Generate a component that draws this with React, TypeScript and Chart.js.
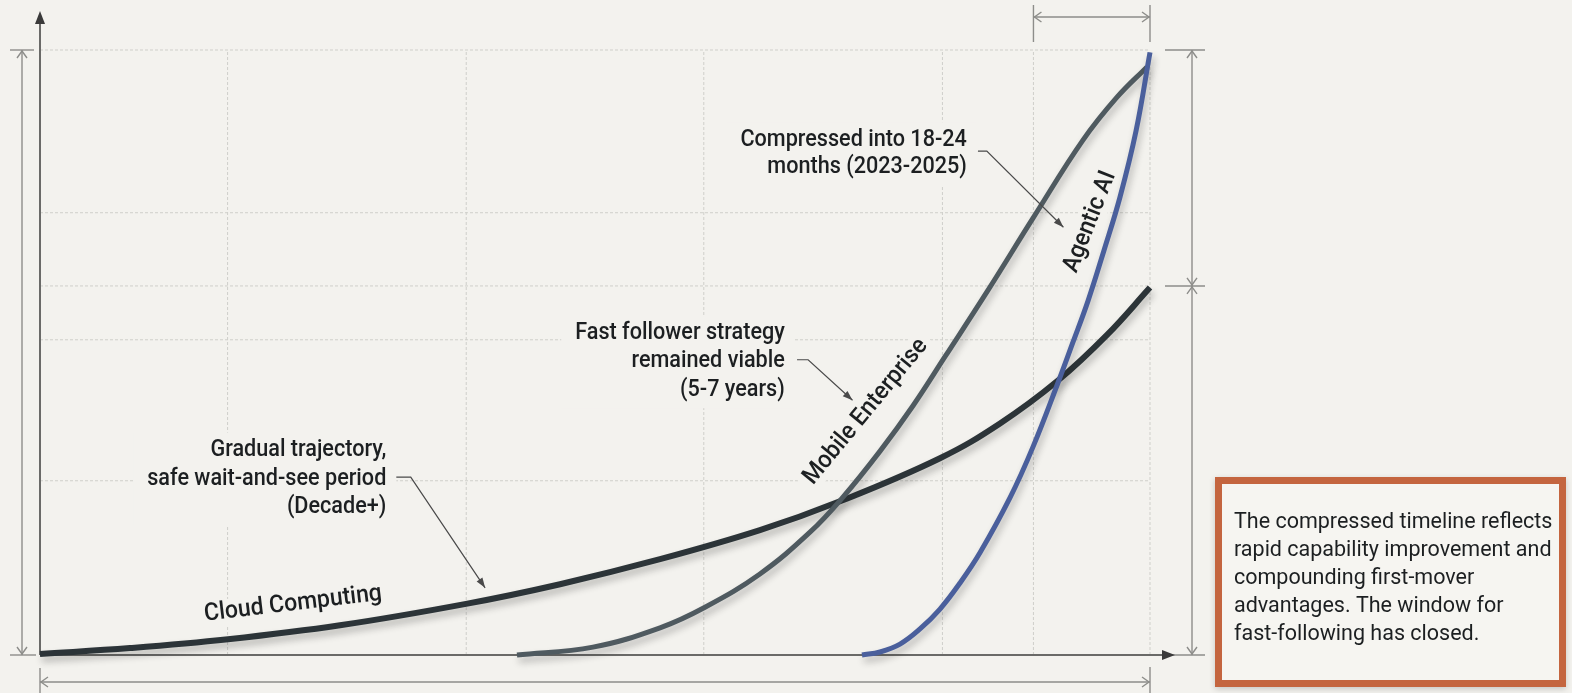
import React, { useEffect, useRef } from "react";
import { Chart, registerables } from "chart.js";
Chart.register(...registerables);

// ---- data (x: relative time index 0-100, y: relative adoption 0-100) ----
const seriesNames = ["Cloud Computing", "Mobile Enterprise", "Agentic AI"];
const cloudX = [0, 8.11, 16.94, 27.03, 38.38, 46.85, 55.86, 64.86, 72.07, 81.08, 86.49, 91.71, 96.13, 100];
const cloudY = [0.17, 1.14, 2.6, 4.91, 8.45, 11.7, 15.83, 20.63, 25.4, 32.53, 38.28, 45.37, 52.91, 60.73];
const mobileX = [42.97, 49.82, 55.86, 59.91, 64.86, 69.37, 72.34, 75.68, 78.65, 81.53, 85.41, 89.46, 93.96, 97.03, 99.73];
const mobileY = [0, 1.3, 4.5, 7.9, 13.4, 20.3, 26.1, 33.7, 41.2, 49.3, 60.3, 72.2, 85.1, 92.2, 97.2];
const agenticX = [74.05, 75.68, 77.48, 79.28, 81.08, 82.88, 84.68, 87.39, 89.46, 91.71, 93.06, 94.41, 95.86, 97.3, 98.74, 100];
const agenticY = [0, 0.5, 1.8, 4.3, 7.6, 11.9, 16.9, 26.0, 34.4, 45.0, 51.7, 58.5, 66.9, 75.7, 86.6, 99.6];
const gridX = [16.9, 38.4, 59.8, 81.3, 89.5, 100];
const gridY = [28.8, 52.1, 61.0, 73.1, 100];
const windowStart = 89.5;
const cloudEnd = 61.0;

const cloudNote = ["Gradual trajectory,", "safe wait-and-see period", "(Decade+)"];
const mobileNote = ["Fast follower strategy", "remained viable", "(5-7 years)"];
const agenticNote = ["Compressed into 18-24", "months (2023-2025)"];
const boxText = [
  "The compressed timeline reflects",
  "rapid capability improvement and",
  "compounding first-mover",
  "advantages. The window for",
  "fast-following has closed.",
];

const BG = "#f3f2ee";
const TEXT = "#1c1f21";
const FONT = "Roboto";
const CONDENSE = 0.94;

function chevron(ctx: CanvasRenderingContext2D, x: number, y: number, dir: string, s = 7, w = 5) {
  ctx.beginPath();
  if (dir === "up") { ctx.moveTo(x - w, y + s); ctx.lineTo(x, y); ctx.lineTo(x + w, y + s); }
  if (dir === "down") { ctx.moveTo(x - w, y - s); ctx.lineTo(x, y); ctx.lineTo(x + w, y - s); }
  if (dir === "left") { ctx.moveTo(x + s, y - w); ctx.lineTo(x, y); ctx.lineTo(x + s, y + w); }
  if (dir === "right") { ctx.moveTo(x - s, y - w); ctx.lineTo(x, y); ctx.lineTo(x - s, y + w); }
  ctx.stroke();
}

function line(ctx: CanvasRenderingContext2D, x1: number, y1: number, x2: number, y2: number) {
  ctx.beginPath(); ctx.moveTo(x1, y1); ctx.lineTo(x2, y2); ctx.stroke();
}

const shadowPlugin = {
  id: "shadow",
  beforeDatasetDraw(chart: any) {
    const ctx = chart.ctx;
    ctx.save();
    ctx.shadowColor = "rgba(30,30,30,0.28)";
    ctx.shadowBlur = 7;
    ctx.shadowOffsetX = 2;
    ctx.shadowOffsetY = 5;
  },
  afterDatasetDraw(chart: any) {
    chart.ctx.restore();
  },
};

const NOTE_FONT = `500 23px ${FONT}`;

function noteBlock(ctx: CanvasRenderingContext2D, lines: string[], right: number, top: number, lh: number, bgOnly: boolean) {
  ctx.font = NOTE_FONT;
  if (bgOnly) {
    const w = Math.max(...lines.map((l) => ctx.measureText(l).width)) * CONDENSE;
    ctx.fillStyle = BG;
    ctx.fillRect(right - w - 14, top - 18, w + 24, lh * (lines.length - 1) + 36);
    return;
  }
  ctx.fillStyle = TEXT;
  ctx.textAlign = "right";
  ctx.textBaseline = "middle";
  lines.forEach((l, i) => {
    ctx.save();
    ctx.translate(right, top + i * lh);
    ctx.scale(CONDENSE, 1);
    ctx.fillText(l, 0, 0);
    ctx.restore();
  });
}

function arrowPath(ctx: CanvasRenderingContext2D, pts: number[][]) {
  ctx.strokeStyle = "#4a4a4a";
  ctx.fillStyle = "#4a4a4a";
  ctx.lineWidth = 1.2;
  ctx.beginPath();
  ctx.moveTo(pts[0][0], pts[0][1]);
  for (let i = 1; i < pts.length; i++) ctx.lineTo(pts[i][0], pts[i][1]);
  ctx.stroke();
  const [ax, ay] = pts[pts.length - 2];
  const [bx, by] = pts[pts.length - 1];
  const a = Math.atan2(by - ay, bx - ax);
  const L = 10, W = 3.5;
  ctx.beginPath();
  ctx.moveTo(bx, by);
  ctx.lineTo(bx - L * Math.cos(a) + W * Math.sin(a), by - L * Math.sin(a) - W * Math.cos(a));
  ctx.lineTo(bx - L * Math.cos(a) - W * Math.sin(a), by - L * Math.sin(a) + W * Math.cos(a));
  ctx.closePath();
  ctx.fill();
}

function seriesLabel(ctx: CanvasRenderingContext2D, text: string, x: number, y: number, angDeg: number, bgOnly: boolean) {
  ctx.save();
  ctx.translate(x, y);
  ctx.rotate((angDeg * Math.PI) / 180);
  ctx.scale(CONDENSE, 1);
  ctx.font = `500 24.5px ${FONT}`;
  ctx.textAlign = "center";
  ctx.textBaseline = "middle";
  if (bgOnly) {
    const w = ctx.measureText(text).width;
    ctx.fillStyle = BG;
    ctx.fillRect(-w / 2 - 6, -13, w + 12, 26);
  } else {
    ctx.fillStyle = TEXT;
    ctx.fillText(text, 0, 0);
  }
  ctx.restore();
}

const decorPlugin = {
  id: "decor",
  beforeDraw(chart: any) {
    const ctx = chart.ctx;
    ctx.save();
    ctx.fillStyle = BG;
    ctx.fillRect(0, 0, chart.width, chart.height);
    ctx.restore();
  },
  beforeDatasetsDraw(chart: any) {
    const ctx: CanvasRenderingContext2D = chart.ctx;
    const xs = chart.scales.x, ys = chart.scales.y;
    const X = (v: number) => xs.getPixelForValue(v);
    const Y = (v: number) => ys.getPixelForValue(v);
    ctx.save();
    // grid
    ctx.strokeStyle = "#cfcfca";
    ctx.lineWidth = 1;
    ctx.setLineDash([3, 2]);
    gridY.forEach((g) => line(ctx, X(0), Y(g), X(100), Y(g)));
    gridX.forEach((g) => line(ctx, X(g), Y(0), X(g), Y(100)));
    ctx.setLineDash([]);
    // text backgrounds
    noteBlock(ctx, cloudNote, X(31.2), Y(33.8), 28.5, true);
    noteBlock(ctx, mobileNote, X(67.1), Y(53.2), 28.5, true);
    noteBlock(ctx, agenticNote, X(83.5), Y(85.1), 27.5, true);
    seriesLabel(ctx, seriesNames[0], X(22.8), Y(8.4), -6.8, true);
    seriesLabel(ctx, seriesNames[1], X(74.4), Y(40.2), -50.5, true);
    seriesLabel(ctx, seriesNames[2], X(94.6), Y(71.6), -68.5, true);
    // notes text
    noteBlock(ctx, cloudNote, X(31.2), Y(33.8), 28.5, false);
    noteBlock(ctx, mobileNote, X(67.1), Y(53.2), 28.5, false);
    noteBlock(ctx, agenticNote, X(83.5), Y(85.1), 27.5, false);

    // dimension lines
    ctx.strokeStyle = "#8d8d8a";
    ctx.lineWidth = 1.4;
    const L = X(0) - 18;
    line(ctx, L, Y(100), L, Y(0));
    line(ctx, L - 12, Y(100), L + 12, Y(100));
    line(ctx, L - 12, Y(0), L + 14, Y(0));
    chevron(ctx, L, Y(100) + 1, "up");
    chevron(ctx, L, Y(0) - 1, "down");
    const B = Y(0) + 27;
    line(ctx, X(0), B, X(100), B);
    line(ctx, X(0), B - 14, X(0), B + 12);
    line(ctx, X(100), B - 15, X(100), B + 12);
    chevron(ctx, X(0) + 1, B, "left");
    chevron(ctx, X(100) - 1, B, "right");
    const T = Y(100) - 33;
    line(ctx, X(windowStart), T, X(100), T);
    line(ctx, X(windowStart), T - 12, X(windowStart), T + 25);
    line(ctx, X(100), T - 12, X(100), T + 25);
    chevron(ctx, X(windowStart) + 1, T, "left");
    chevron(ctx, X(100) - 1, T, "right");
    const R = X(100) + 42;
    line(ctx, R, Y(100), R, Y(0));
    [100, cloudEnd, 0].forEach((v) => line(ctx, R - 27, Y(v), R + 13, Y(v)));
    chevron(ctx, R, Y(100) + 1, "up");
    chevron(ctx, R, Y(cloudEnd) - 1, "down");
    chevron(ctx, R, Y(cloudEnd) + 1, "up");
    chevron(ctx, R, Y(0) - 1, "down");

    // axes
    ctx.strokeStyle = "#6a6a68";
    ctx.fillStyle = "#3a3a3a";
    ctx.lineWidth = 2;
    line(ctx, X(0), Y(0), X(0), 22);
    line(ctx, X(0), Y(0), chart.chartArea.right + 17, Y(0));
    ctx.beginPath();
    ctx.moveTo(X(0), 11); ctx.lineTo(X(0) - 5, 24); ctx.lineTo(X(0) + 5, 24); ctx.closePath(); ctx.fill();
    const ax = chart.chartArea.right + 25;
    ctx.beginPath();
    ctx.moveTo(ax, Y(0)); ctx.lineTo(ax - 13, Y(0) - 5); ctx.lineTo(ax - 13, Y(0) + 5); ctx.closePath(); ctx.fill();
    ctx.restore();
  },
  afterDatasetsDraw(chart: any) {
    const ctx: CanvasRenderingContext2D = chart.ctx;
    const xs = chart.scales.x, ys = chart.scales.y;
    const X = (v: number) => xs.getPixelForValue(v);
    const Y = (v: number) => ys.getPixelForValue(v);
    ctx.save();
    seriesLabel(ctx, seriesNames[0], X(22.8), Y(8.4), -6.8, false);
    seriesLabel(ctx, seriesNames[1], X(74.4), Y(40.2), -50.5, false);
    seriesLabel(ctx, seriesNames[2], X(94.6), Y(71.6), -68.5, false);
    arrowPath(ctx, [[X(32.1), Y(29.4)], [X(33.4), Y(29.4)], [X(40.1), Y(11.1)]]);
    arrowPath(ctx, [[X(68.2), Y(48.8)], [X(69.2), Y(48.8)], [X(73.2), Y(42.1)]]);
    arrowPath(ctx, [[X(84.5), Y(83.3)], [X(85.3), Y(83.3)], [X(92.2), Y(70.7)]]);

    // conclusion box
    const bx = 1215, by = 477, bw = 351, bh = 210;
    ctx.save();
    ctx.shadowColor = "rgba(0,0,0,0.18)";
    ctx.shadowBlur = 6;
    ctx.shadowOffsetY = 2;
    ctx.fillStyle = "#c4653f";
    ctx.fillRect(bx, by, bw, bh);
    ctx.restore();
    ctx.fillStyle = "#f6f5f1";
    ctx.fillRect(bx + 7, by + 7, bw - 14, bh - 14);
    ctx.fillStyle = TEXT;
    ctx.font = `21.5px ${FONT}`;
    ctx.textAlign = "left";
    ctx.textBaseline = "middle";
    boxText.forEach((t, i) => ctx.fillText(t, bx + 19, by + 46 + i * 28));
    ctx.restore();
  },
};

export default function App() {
  const ref = useRef<HTMLCanvasElement>(null);
  useEffect(() => {
    document.body.style.margin = "0";
    document.body.style.background = BG;
    const mk = (xs: number[], ys: number[]) => xs.map((x, i) => ({ x, y: ys[i] }));
    const chart = new Chart(ref.current!, {
      type: "line",
      data: {
        datasets: [
          { label: seriesNames[0], data: mk(cloudX, cloudY), borderColor: "#2c3438", borderWidth: 6, order: 3 },
          { label: seriesNames[1], data: mk(mobileX, mobileY), borderColor: "#4f5a60", borderWidth: 5, order: 2 },
          { label: seriesNames[2], data: mk(agenticX, agenticY), borderColor: "#4a5f9c", borderWidth: 5, order: 1 },
        ].map((d) => ({ ...d, pointRadius: 0, tension: 0.4, fill: false, clip: false })) as any,
      },
      options: {
        animation: false,
        responsive: false,
        devicePixelRatio: 1,
        layout: { padding: { left: 40, right: 422, top: 50, bottom: 38 } },
        plugins: { legend: { display: false }, tooltip: { enabled: false } },
        scales: {
          x: { type: "linear", min: 0, max: 100, display: false },
          y: { type: "linear", min: 0, max: 100, display: false },
        },
      },
      plugins: [shadowPlugin, decorPlugin],
    });
    if ((document as any).fonts) (document as any).fonts.ready.then(() => chart.draw());
    return () => chart.destroy();
  }, []);
  return (
    <div style={{ position: "fixed", left: 0, top: 0, width: 1572, height: 693, background: BG }}>
      <canvas ref={ref} width={1572} height={693} style={{ width: 1572, height: 693, display: "block" }} />
    </div>
  );
}
